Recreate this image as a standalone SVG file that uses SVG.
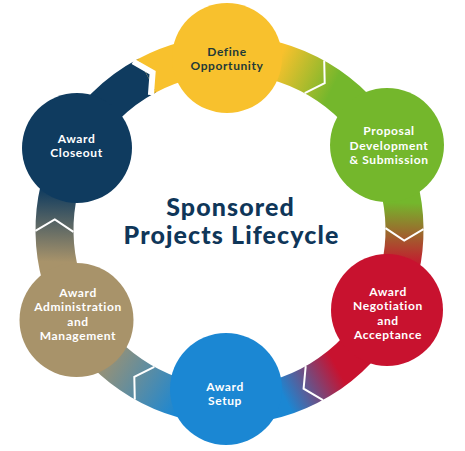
<svg xmlns="http://www.w3.org/2000/svg" width="465" height="451" viewBox="0 0 465 451">
<style>
.band{fill:none;stroke-width:38}
.chev{fill:none;stroke:#fff;stroke-width:2;stroke-linejoin:miter}
.lbl{font-family:"Lato","Open Sans","DejaVu Sans",sans-serif;font-weight:700;font-size:12px;letter-spacing:0.6px;text-anchor:middle;fill:#fff}
.dark{fill:#1f3a38}
.title{font-family:"Lato","Open Sans","DejaVu Sans",sans-serif;font-weight:900;font-size:25px;letter-spacing:1.1px;text-anchor:middle;fill:#0f3659}
</style>
<defs>
<linearGradient id="gYG" gradientUnits="userSpaceOnUse" x1="277.7" y1="61.8" x2="332.4" y2="88.4"><stop offset="0" stop-color="#f8c12d"/><stop offset="1" stop-color="#74b72c"/></linearGradient>
<linearGradient id="gGR" gradientUnits="userSpaceOnUse" x1="402.3" y1="202.6" x2="400.7" y2="266.4"><stop offset="0" stop-color="#74b72c"/><stop offset="1" stop-color="#c8122f"/></linearGradient>
<linearGradient id="gRB" gradientUnits="userSpaceOnUse" x1="337.2" y1="367.9" x2="283.6" y2="396.4"><stop offset="0" stop-color="#c8122f"/><stop offset="1" stop-color="#1b87d3"/></linearGradient>
<linearGradient id="gBT" gradientUnits="userSpaceOnUse" x1="184.2" y1="399.0" x2="99.5" y2="347.1"><stop offset="0" stop-color="#1b87d3"/><stop offset="1" stop-color="#a8936a"/></linearGradient>
<linearGradient id="gTN" gradientUnits="userSpaceOnUse" x1="57.4" y1="261.9" x2="59.3" y2="189.2"><stop offset="0" stop-color="#a8936a"/><stop offset="1" stop-color="#0f3b5f"/></linearGradient>
</defs>
<rect width="465" height="451" fill="#fff"/>
<g id="connectors">
<path class="band" stroke="url(#gYG)" d="M229.5,55 A175,175 0 0 1 382.6,145.2"/>
<path class="band" stroke="url(#gGR)" d="M382.6,145.2 A175,175 0 0 1 385.4,309.5"/>
<path class="band" stroke="url(#gRB)" d="M385.4,309.5 A175,175 0 0 1 226.4,405"/>
<path class="band" stroke="url(#gBT)" d="M226.4,405 A175,175 0 0 1 77.95,317.5"/>
<path class="band" stroke="url(#gTN)" d="M77.95,317.5 A175,175 0 0 1 75,147.8"/>
<path class="band" stroke="#0f3b5f" d="M75,147.8 A175,175 0 0 1 147.3,75.5"/>
<path class="band" stroke="#f8c12d" d="M147.3,75.5 A175,175 0 0 1 229.5,55"/>
<polygon fill="#0f3b5f" points="142.84,67.11 152.6,72.7 151.76,83.89"/>
<polygon fill="#f8c12d" points="142.84,67.11 138.38,58.72 133.1,61.5"/>
<polygon fill="#f8c12d" points="151.76,83.89 156.22,92.28 150.9,95.1"/>
<polyline class="chev" style="stroke-width:6" points="133.1,61.5 152.6,72.7 150.9,95.1"/>
<polyline class="chev" points="324.2,60.6 324.7,83.1 304.7,93.2"/>
<polyline class="chev" points="423.5,229.1 404.2,240.6 385.5,228.1"/>
<polyline class="chev" points="323,400.1 303.6,388.6 305.7,366.2"/>
<polyline class="chev" points="134.8,399.4 134.3,376.9 154.3,366.8"/>
<polyline class="chev" points="35.4,230.9 54.8,219.4 73.4,231.9"/>
</g>
<g id="define">
<circle cx="227" cy="58" r="55" fill="#f8c12d"/>
<text class="lbl dark" x="227" y="55.75">Define</text>
<text class="lbl dark" x="227" y="70.25">Opportunity</text>
</g>
<g id="proposal">
<circle cx="387" cy="145" r="57" fill="#74b72c"/>
<text class="lbl" x="389" y="135">Proposal</text>
<text class="lbl" x="389" y="149.5">Development</text>
<text class="lbl" x="389" y="164">&amp; Submission</text>
</g>
<g id="negotiation">
<circle cx="387" cy="310" r="56" fill="#c8122f"/>
<text class="lbl" x="388" y="295.75">Award</text>
<text class="lbl" x="388" y="310.25">Negotiation</text>
<text class="lbl" x="388" y="324.75">and</text>
<text class="lbl" x="388" y="339.25">Acceptance</text>
</g>
<g id="setup">
<circle cx="226" cy="389" r="56" fill="#1b87d3"/>
<text class="lbl" x="225" y="390.75">Award</text>
<text class="lbl" x="225" y="405.25">Setup</text>
</g>
<g id="administration">
<circle cx="76.5" cy="320" r="57" fill="#a8936a"/>
<text class="lbl" x="78" y="296.85">Award</text>
<text class="lbl" x="78" y="311.35">Administration</text>
<text class="lbl" x="78" y="325.85">and</text>
<text class="lbl" x="78" y="340.35">Management</text>
</g>
<g id="closeout">
<circle cx="77" cy="148" r="55" fill="#0f3b5f"/>
<text class="lbl" x="76.5" y="142.75">Award</text>
<text class="lbl" x="76.5" y="157.25">Closeout</text>
</g>
<g id="title">
<text class="title" x="230.5" y="216">Sponsored</text>
<text class="title" x="231.5" y="243.5">Projects Lifecycle</text>
</g>
</svg>
